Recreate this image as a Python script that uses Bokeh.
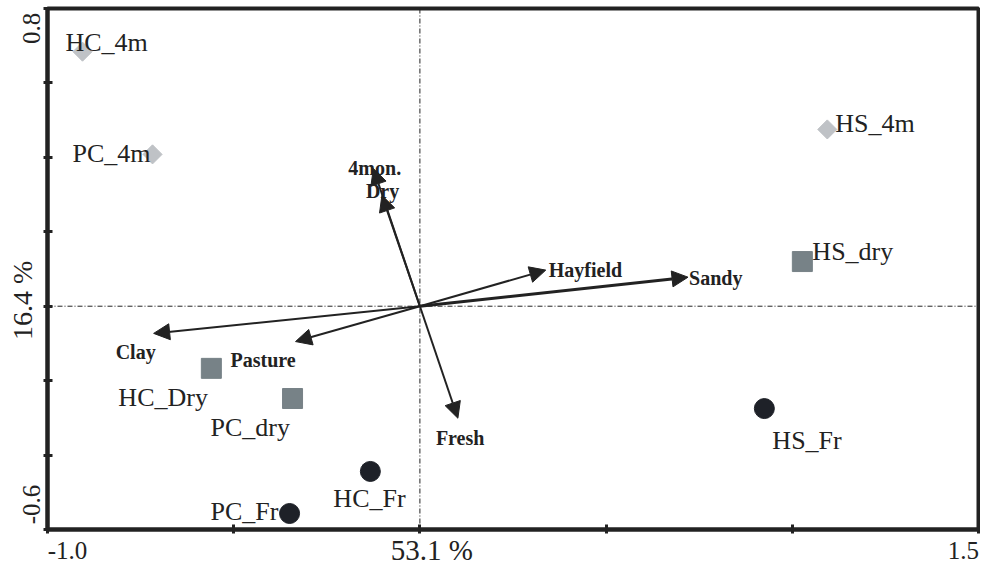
import math
from bokeh.plotting import figure
from bokeh.models import (ColumnDataSource, Arrow, NormalHead, Span, LinearAxis,
                          FixedTicker)
from bokeh.core.properties import value
from bokeh.embed import file_html
from bokeh.resources import INLINE

# ---------------- data ----------------
sample_names = ["HC_4m", "PC_4m", "HS_4m", "HC_Dry", "PC_dry", "HS_dry", "HC_Fr", "PC_Fr", "HS_Fr"]
sample_x = [-0.906, -0.718, 1.094, -0.560, -0.342, 1.027, -0.133, -0.350, 0.925]
sample_y = [0.684, 0.408, 0.475, -0.167, -0.248, 0.120, -0.444, -0.557, -0.275]
sample_group = ["4m", "4m", "4m", "dry", "dry", "dry", "fresh", "fresh", "fresh"]

vector_names = ["Clay", "Pasture", "4mon.", "Dry", "Hayfield", "Sandy", "Fresh"]
vector_x = [-0.715, -0.334, -0.125, -0.102, 0.338, 0.720, 0.102]
vector_y = [-0.073, -0.095, 0.370, 0.298, 0.097, 0.078, -0.301]

x_range = (-1.0, 1.5)
y_range = (-0.6, 0.8)
x_ticks = [-1.0, -0.5, 0.0, 0.5, 1.0, 1.5]
y_ticks = [-0.6, -0.4, -0.2, 0.0, 0.2, 0.4, 0.6, 0.8]
x_end_labels = ["-1.0", "1.5"]
x_end_label_at = [-1.0, 1.5]
x_title = "53.1 %"          # variance explained, axis 1
y_end_labels = ["-0.6", "0.8"]
y_end_label_at = [-0.6, 0.8]
y_title = "16.4 %"          # variance explained, axis 2

# ---------------- style / layout ----------------
INK = "#222222"
SERIF = "Liberation Serif"
W, H = 980, 570
ML, MR, MT, MB = 47, 2, 8, 41
group_style = {
    "4m": dict(marker="square", size=13.5, angle=math.pi / 4, color="#bfc2c6"),
    "dry": dict(marker="square", size=20, angle=0.0, color="#778287"),
    "fresh": dict(marker="circle", size=20, angle=0.0, color="#1e2128"),
}
sample_label_offsets = [(-17, -9), (-80, -1), (8, -6), (-93, 29), (-82, 29),
                        (10, -10), (-37, 27), (-79, -2), (8, 32)]
vector_label_offsets = [(-38, 19), (-65, 18), (-25, -1), (-16, -4), (3, 0), (1, 1), (-22, 20)]
vector_widths = [2, 2, 2, 2, 2, 3, 2]
# pixel shifts of the axis labels away from their nominal value (labels sit inside the span)
x_end_shift_px = [20, -15]
x_title_shift_px = 12
y_end_shift_px = [25, -20]
y_title_shift_px = 6

p = figure(width=W, height=H, x_range=x_range, y_range=y_range,
           output_backend="svg", toolbar_location=None,
           min_border_left=ML, min_border_right=MR, min_border_top=MT, min_border_bottom=MB)
p.grid.visible = False
p.outline_line_color = INK
p.outline_line_width = 4

px_per_x = (W - ML - MR) / (x_range[1] - x_range[0])
px_per_y = (H - MT - MB) / (y_range[1] - y_range[0])

# tick-only axes at the frame
for ax, ticks in ((p.xaxis[0], x_ticks), (p.yaxis[0], y_ticks)):
    ax.ticker = FixedTicker(ticks=ticks, minor_ticks=[])
    ax.major_label_overrides = {t: "" for t in ticks}
    ax.major_label_text_color = None
    ax.major_label_text_font_size = "1px"
    ax.major_label_standoff = 0
    ax.axis_line_width = 4
    ax.axis_line_color = INK
    ax.major_tick_line_width = 3
    ax.major_tick_line_color = INK
    ax.major_tick_in = 5
    ax.major_tick_out = 4
    ax.minor_tick_line_color = None


def label_axis(labels, at, shifts, scale, **kw):
    pos = [round(a + s / scale, 4) for a, s in zip(at, shifts)]
    return LinearAxis(ticker=FixedTicker(ticks=pos, minor_ticks=[]),
                      major_label_overrides={q: t for q, t in zip(pos, labels)},
                      axis_line_color=None, major_tick_line_color=None,
                      minor_tick_line_color=None, major_tick_in=0, major_tick_out=0,
                      major_label_text_font=SERIF, major_label_text_color=INK, **kw)


# bottom: end values, then the percentage title pulled back up beside them
p.add_layout(label_axis(x_end_labels, x_end_label_at, x_end_shift_px, px_per_x,
                        major_label_text_font_size="25px", major_label_standoff=8), "below")
p.add_layout(label_axis([x_title], [0.0], [x_title_shift_px], px_per_x,
                        major_label_text_font_size="29px", major_label_standoff=-28), "below")
# left: end values, then the percentage title
p.add_layout(label_axis(y_end_labels, y_end_label_at, y_end_shift_px, px_per_y,
                        major_label_text_font_size="25px", major_label_standoff=3,
                        major_label_orientation="parallel"), "left")
p.add_layout(label_axis([y_title], [0.0], [y_title_shift_px], px_per_y,
                        major_label_text_font_size="28px", major_label_standoff=-18,
                        major_label_orientation="parallel"), "left")

# zero lines
for dim in ("height", "width"):
    p.add_layout(Span(location=0, dimension=dim, line_color=INK, line_width=1,
                      line_dash="5 2 1 2"))

# vectors
for i in range(len(vector_names)):
    p.add_layout(Arrow(x_start=0, y_start=0, x_end=vector_x[i], y_end=vector_y[i],
                       line_color=INK, line_width=vector_widths[i],
                       end=NormalHead(size=16, fill_color=INK, line_color=INK, line_width=1)))

vsrc = ColumnDataSource(dict(x=vector_x, y=vector_y, t=vector_names,
                             dx=[o[0] for o in vector_label_offsets],
                             dy=[o[1] for o in vector_label_offsets]))
p.text(x="x", y="y", text="t", source=vsrc, x_offset="dx", y_offset="dy",
       text_font=value(SERIF), text_font_style="bold", text_font_size="20px",
       text_color=INK, text_align="left", text_baseline="alphabetic")

# samples
for g, st in group_style.items():
    idx = [i for i, gg in enumerate(sample_group) if gg == g]
    src = ColumnDataSource(dict(x=[sample_x[i] for i in idx], y=[sample_y[i] for i in idx]))
    p.scatter(x="x", y="y", source=src, marker=st["marker"], size=st["size"],
              angle=st["angle"], fill_color=st["color"], line_color=st["color"])

ssrc = ColumnDataSource(dict(x=sample_x, y=sample_y, t=sample_names,
                             dx=[o[0] for o in sample_label_offsets],
                             dy=[o[1] for o in sample_label_offsets]))
p.text(x="x", y="y", text="t", source=ssrc, x_offset="dx", y_offset="dy",
       text_font=value(SERIF), text_font_size="26px", text_color=INK,
       text_align="left", text_baseline="alphabetic")

open("out.html", "w").write(file_html(p, INLINE))
